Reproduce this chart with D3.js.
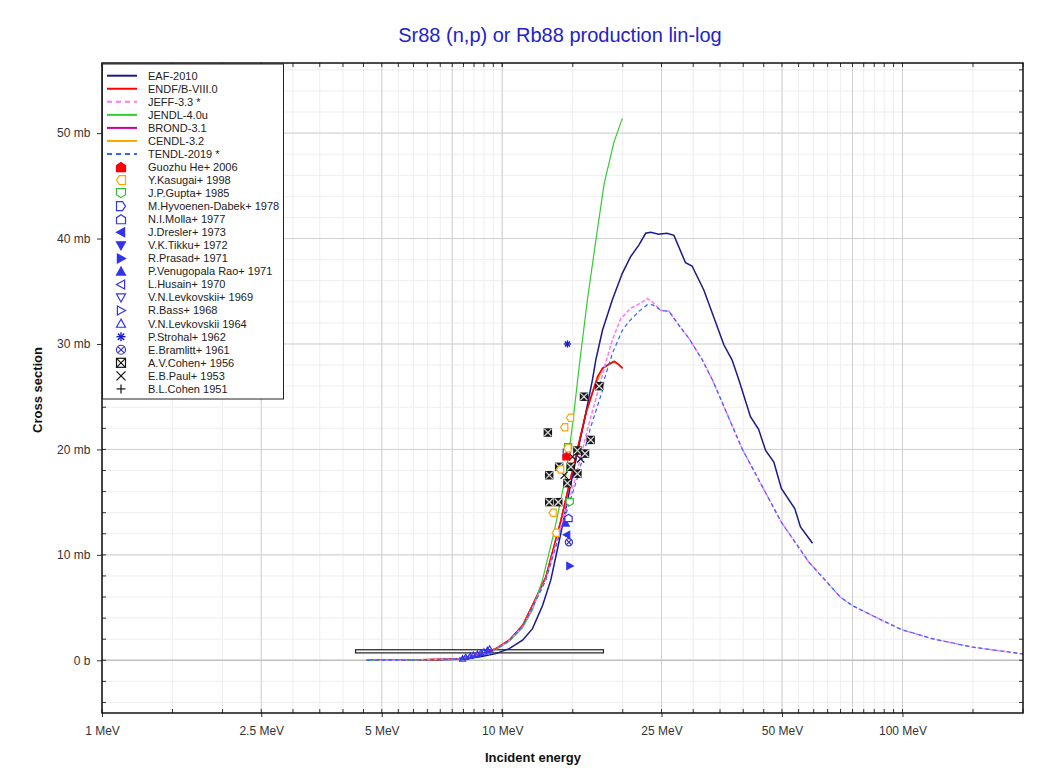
<!DOCTYPE html>
<html>
<head>
<meta charset="utf-8">
<script src="https://cdn.jsdelivr.net/npm/d3@7"></script>
<style>
  html, body { margin: 0; padding: 0; background: #fff; }
  svg { display: block; font-family: "Liberation Sans", Arial, sans-serif; }
</style>
</head>
<body>
<svg id="chart" width="1049" height="774"></svg>
<script>
// ---------------- DATA ----------------
const title = "Sr88 (n,p) or Rb88 production lin-log";
const xTitle = "Incident energy";
const yTitle = "Cross section";

const xTickValues = [1, 2.5, 5, 10, 25, 50, 100];
const xTickLabels = ["1 MeV", "2.5 MeV", "5 MeV", "10 MeV", "25 MeV", "50 MeV", "100 MeV"];
const xMajorGrid = [1, 2.5, 5, 7.5, 10, 25, 50, 75, 100];
const yTickValues = [0, 10, 20, 30, 40, 50];
const yTickLabels = ["0 b", "10 mb", "20 mb", "30 mb", "40 mb", "50 mb"];

// evaluations: [energy MeV, cross section mb]
const eaf2010 = [[4.58,0],[6,0.02],[7,0.06],[7.8,0.1],[8.76,0.31],[9.64,0.63],[10.41,1.1],[11.24,1.9],[11.9,3.0],[12.61,5.2],[13.22,7.6],[14.0,12.0],[15.0,17.6],[16.0,22.6],[16.8,26.6],[17.13,28.5],[17.8,31.3],[18.84,34.2],[19.95,36.7],[20.94,38.3],[21.96,39.4],[22.82,40.5],[23.5,40.6],[24.6,40.4],[25.8,40.5],[26.85,40.3],[28.7,37.7],[29.8,37.4],[31.9,35.1],[35.8,29.9],[37.5,28.5],[39.0,26.6],[41.7,23.1],[43.7,21.9],[45.5,19.9],[47.7,18.8],[49.8,16.3],[53.8,14.4],[55.6,12.65],[59.6,11.1]];
const endf8 = [[4.6,0],[6,0.02],[6.8,0.05],[7.8,0.16],[8.76,0.54],[9.64,1.1],[10.41,1.9],[11.24,3.3],[11.9,5.2],[12.85,7.9],[14.0,13.2],[14.83,17.3],[16.2,23.5],[16.97,25.9],[17.3,26.9],[17.8,27.7],[18.5,28.1],[19.03,28.35],[19.5,28.1],[20.0,27.7]];
const jeff33 = [[4.6,0],[6,0.02],[7.8,0.15],[8.76,0.5],[9.64,1.05],[10.41,1.85],[11.24,3.2],[11.9,5.0],[12.85,7.7],[14.0,12.6],[15.27,17.4],[16.4,22.2],[17.6,26.4],[18.1,28.1],[18.84,30.4],[19.77,32.4],[20.94,33.4],[21.96,33.8],[23.0,34.3],[23.7,34.0],[24.9,33.2],[26.1,33.1],[27.6,31.8],[29.3,30.5],[31.6,28.5],[33.5,26.6],[39.7,20.1],[49.8,13.1],[58.3,9.33],[69.9,6.0],[74.8,5.2],[88.8,3.8],[99.6,2.9],[118.3,2.06],[148.8,1.26],[200,0.6]];
const jendl40u = [[4.6,0],[6,0.02],[7.8,0.12],[8.76,0.45],[9.64,1.0],[10.41,1.8],[11.24,3.1],[11.9,4.8],[12.6,7.6],[13.5,12.3],[14.41,17.5],[15.0,22.5],[15.56,27.8],[16.32,34.2],[17.13,39.8],[17.97,45.2],[19.03,49.2],[19.95,51.4]];
const brond31 = [[4.6,0],[6,0.02],[7.8,0.16],[8.76,0.54],[9.64,1.1],[10.41,1.9],[11.24,3.3],[11.9,5.2],[12.85,7.9],[14.0,13.2],[14.83,17.3],[16.2,23.5],[16.97,25.9],[17.8,27.7],[19.03,28.35],[20.0,27.7]];
const cendl32 = [[4.6,0],[6,0.02],[7.8,0.16],[8.76,0.54],[9.64,1.1],[10.41,1.9],[11.24,3.3],[11.9,5.2],[12.85,7.9],[14.0,13.2],[14.83,17.3],[16.2,23.5],[16.97,25.9],[17.8,27.7],[19.03,28.35],[20.0,27.7]];
const tendl2019 = [[4.6,0],[6,0.02],[7.8,0.15],[8.76,0.5],[9.64,1.05],[10.41,1.85],[11.24,3.2],[11.9,5.0],[12.85,7.6],[14.0,12.3],[15.41,17.3],[16.6,22.0],[17.8,25.6],[17.97,26.6],[18.84,29.1],[19.95,31.3],[20.7,32.1],[21.96,33.1],[23.0,33.7],[23.8,33.7],[24.9,33.2],[26.1,33.1],[27.6,31.8],[29.3,30.5],[31.6,28.5],[33.5,26.6],[39.7,20.1],[49.8,13.1],[58.3,9.33],[69.9,6.0],[74.8,5.2],[88.8,3.8],[99.6,2.9],[118.3,2.06],[148.8,1.26],[200,0.6]];

// experimental points: [energy MeV, cross section mb]
const heGuozhu2006 = [[14.47,19.35]];
const kasugai1998 = [[14.77,23.0],[14.28,22.1],[14.55,20.1],[13.95,18.1],[13.36,14.0],[13.6,12.1]];
const gupta1985 = [[14.74,15.0],[14.6,20.2]];
const hyvoenen1978 = [[14.5,19.7]];
const molla1977 = [[14.64,13.5]];
const dresler1973 = [[14.5,11.9]];
const tikku1972 = [];
const prasad1971 = [[14.74,8.95]];
const venugopala1971 = [[14.4,13.0]];
const husain1970 = [];
const levkovskii1969 = [];
const bass1968 = [];
const levkovskii1964 = [[7.96,0.15],[8.1,0.3],[8.31,0.4],[8.47,0.5],[8.67,0.6],[8.84,0.7],[9.0,0.8],[9.18,0.95],[9.3,1.1]];
const strohal1962 = [[14.55,30.0]];
const bramlitt1961 = [[14.67,11.2]];
const cohenAV1956 = [[17.46,26.0],[16.0,25.0],[13.0,21.6],[16.63,20.9],[15.41,19.9],[16.1,19.6],[13.87,18.35],[14.83,18.35],[13.1,17.55],[15.41,17.7],[14.55,16.8],[13.1,15.0],[13.8,15.0]];
const paul1953 = [[14.98,19.3],[15.7,19.1],[14.28,17.55]];
const cohenBL1951 = [];
// broad-energy measurement drawn as a box: [Emin, Emax, sigmaLow, sigmaHigh]
const broadBox = [[4.3, 17.9, 0.7, 1.0]];

// ---------------- STYLE ----------------
const W = 1049, H = 774;
const plot = { left: 102, right: 1023, top: 63, bottom: 713 };
const svg = d3.select("#chart");

const x = d3.scaleLog().domain([1, 200]).range([plot.left, plot.right]);
const y = d3.scaleLinear().domain([-5, 56.65]).range([plot.bottom, plot.top]);

// minor tick positions
const xMinor = [];
[1, 10, 100].forEach(d => { for (let k = 1; k <= 10.0001; k += 0.5) { const v = k * d; if (v <= 200) xMinor.push(v); } });
const yMinor = d3.range(-4, 57, 2);

// grid
const grid = svg.append("g");
grid.selectAll(".vmin").data(xMinor).join("line")
  .attr("x1", d => x(d)).attr("x2", d => x(d)).attr("y1", plot.top).attr("y2", plot.bottom)
  .attr("stroke", "#eeeeee").attr("stroke-width", 1);
grid.selectAll(".hmin").data(yMinor).join("line")
  .attr("x1", plot.left).attr("x2", plot.right).attr("y1", d => y(d)).attr("y2", d => y(d))
  .attr("stroke", "#eeeeee").attr("stroke-width", 1);
grid.selectAll(".vmaj").data(xMajorGrid).join("line")
  .attr("x1", d => x(d)).attr("x2", d => x(d)).attr("y1", plot.top).attr("y2", plot.bottom)
  .attr("stroke", "#d0d0d0").attr("stroke-width", 1);
grid.selectAll(".hmaj").data(yTickValues).join("line")
  .attr("x1", plot.left).attr("x2", plot.right).attr("y1", d => y(d)).attr("y2", d => y(d))
  .attr("stroke", d => d === 0 ? "#c0c0c0" : "#d0d0d0").attr("stroke-width", d => d === 0 ? 1.5 : 1);

// axes
const axB = d3.axisBottom(x).tickValues(xTickValues).tickFormat((d, i) => xTickLabels[i]).tickSizeInner(4).tickSizeOuter(0);
const axL = d3.axisLeft(y).tickValues(yTickValues).tickFormat((d, i) => yTickLabels[i]).tickSizeInner(5).tickSizeOuter(0);
const gB = svg.append("g").attr("transform", `translate(0,${plot.bottom})`).call(axB);
const gL = svg.append("g").attr("transform", `translate(${plot.left},0)`).call(axL);
[gB, gL].forEach(g => {
  g.select(".domain").remove();
  g.selectAll("text").attr("fill", "#333").style("font-size", "12px").style("font-family", "Liberation Sans, Arial, sans-serif");
  g.selectAll("line").attr("stroke", "#333");
});
gB.selectAll("text").attr("dy", "1.25em");
gL.selectAll("text").attr("dx", "-0.3em");

// minor ticks on all sides (inside)
const tk = svg.append("g").attr("stroke", "#333").attr("stroke-width", 1);
tk.selectAll(".tb").data(xMinor).join("line").attr("x1", d => x(d)).attr("x2", d => x(d)).attr("y1", plot.bottom).attr("y2", plot.bottom - 4);
tk.selectAll(".tt").data(xMinor).join("line").attr("x1", d => x(d)).attr("x2", d => x(d)).attr("y1", plot.top).attr("y2", plot.top + 4);
tk.selectAll(".tl").data(yMinor).join("line").attr("x1", plot.left).attr("x2", plot.left + 4).attr("y1", d => y(d)).attr("y2", d => y(d));
tk.selectAll(".tr").data(yMinor).join("line").attr("x1", plot.right).attr("x2", plot.right - 4).attr("y1", d => y(d)).attr("y2", d => y(d));

// clip
svg.append("clipPath").attr("id", "clip").append("rect")
  .attr("x", plot.left).attr("y", plot.top).attr("width", plot.right - plot.left).attr("height", plot.bottom - plot.top);
const pg = svg.append("g").attr("clip-path", "url(#clip)");

// series definitions
const series = [
  { name: "EAF-2010", data: eaf2010, color: "#1a1a8a", dash: null, w: 1.5 },
  { name: "ENDF/B-VIII.0", data: endf8, color: "#ff0000", dash: null, w: 1.5 },
  { name: "JEFF-3.3 *", data: jeff33, color: "#ff77ff", dash: "4,2", w: 1.5 },
  { name: "JENDL-4.0u", data: jendl40u, color: "#33cc33", dash: null, w: 1.2 },
  { name: "BROND-3.1", data: brond31, color: "#cc0099", dash: null, w: 1.5 },
  { name: "CENDL-3.2", data: cendl32, color: "#ffa500", dash: null, w: 1.5 },
  { name: "TENDL-2019 *", data: tendl2019, color: "#3366ff", dash: "4,3", w: 1.2 }
];
const drawOrder = [4, 5, 0, 1, 3, 2, 6];
const line = d3.line().x(d => x(d[0])).y(d => y(d[1]));

// broad box
pg.selectAll(".bbox").data(broadBox).join("rect")
  .attr("x", d => x(d[0])).attr("width", d => x(d[1]) - x(d[0]))
  .attr("y", d => y(d[3])).attr("height", d => y(d[2]) - y(d[3]))
  .attr("fill", "#f4f4f4").attr("stroke", "#222").attr("stroke-width", 1.2);

drawOrder.forEach(i => {
  const s = series[i];
  pg.append("path").datum(s.data).attr("d", line)
    .attr("fill", "none").attr("stroke", s.color).attr("stroke-width", s.w)
    .attr("stroke-dasharray", s.dash);
});

// markers
function house(s) { return `M0,${-s} L${s},${-s*0.35} L${s},${s} L${-s},${s} L${-s},${-s*0.35} Z`; }
function tri(s) { return `M0,${-s} L${s},${s*0.8} L${-s},${s*0.8} Z`; }
const rot = { up: 0, right: 90, down: 180, left: 270 };
function drawMarker(g, m, cx, cy, s) {
  const gg = g.append("g").attr("transform", `translate(${cx},${cy})`);
  const stroke = m.color, sw = 1.2;
  switch (m.shape) {
    case "house":
      gg.append("path").attr("d", house(s)).attr("transform", `rotate(${rot[m.dir]})`)
        .attr("fill", m.fill ? m.color : "#fff").attr("stroke", stroke).attr("stroke-width", sw);
      break;
    case "tri":
      gg.append("path").attr("d", tri(s)).attr("transform", `rotate(${rot[m.dir]})`)
        .attr("fill", m.fill ? m.color : "none").attr("stroke", stroke).attr("stroke-width", sw);
      break;
    case "star":
      [0, 45, 90, 135].forEach(a => gg.append("line").attr("x1", -s).attr("x2", s).attr("y1", 0).attr("y2", 0)
        .attr("transform", `rotate(${a})`).attr("stroke", stroke).attr("stroke-width", 1.4));
      break;
    case "circx":
      gg.append("circle").attr("r", s).attr("fill", "none").attr("stroke", stroke).attr("stroke-width", sw);
      [45, 135].forEach(a => gg.append("line").attr("x1", -s).attr("x2", s).attr("transform", `rotate(${a})`).attr("stroke", stroke).attr("stroke-width", sw));
      break;
    case "boxx":
      gg.append("rect").attr("x", -s).attr("y", -s).attr("width", 2*s).attr("height", 2*s).attr("fill", m.boxFill || "none").attr("stroke", stroke).attr("stroke-width", sw);
      gg.append("line").attr("x1", -s).attr("y1", -s).attr("x2", s).attr("y2", s).attr("stroke", m.xColor || stroke).attr("stroke-width", sw);
      gg.append("line").attr("x1", -s).attr("y1", s).attr("x2", s).attr("y2", -s).attr("stroke", m.xColor || stroke).attr("stroke-width", sw);
      break;
    case "x":
      gg.append("line").attr("x1", -s).attr("y1", -s).attr("x2", s).attr("y2", s).attr("stroke", stroke).attr("stroke-width", sw);
      gg.append("line").attr("x1", -s).attr("y1", s).attr("x2", s).attr("y2", -s).attr("stroke", stroke).attr("stroke-width", sw);
      break;
    case "plus":
      gg.append("line").attr("x1", -s).attr("x2", s).attr("stroke", stroke).attr("stroke-width", sw);
      gg.append("line").attr("y1", -s).attr("y2", s).attr("stroke", stroke).attr("stroke-width", sw);
      break;
  }
}

const blue = "#3333ee";
const experiments = [
  { name: "Guozhu He+ 2006", data: heGuozhu2006, shape: "house", dir: "up", fill: true, color: "#ff0000" },
  { name: "Y.Kasugai+ 1998", data: kasugai1998, shape: "house", dir: "left", fill: false, color: "#ffa500" },
  { name: "J.P.Gupta+ 1985", data: gupta1985, shape: "house", dir: "down", fill: false, color: "#33bb33" },
  { name: "M.Hyvoenen-Dabek+ 1978", data: hyvoenen1978, shape: "house", dir: "right", fill: false, color: blue },
  { name: "N.I.Molla+ 1977", data: molla1977, shape: "house", dir: "up", fill: false, color: blue },
  { name: "J.Dresler+ 1973", data: dresler1973, shape: "tri", dir: "left", fill: true, color: blue },
  { name: "V.K.Tikku+ 1972", data: tikku1972, shape: "tri", dir: "down", fill: true, color: blue },
  { name: "R.Prasad+ 1971", data: prasad1971, shape: "tri", dir: "right", fill: true, color: blue },
  { name: "P.Venugopala Rao+ 1971", data: venugopala1971, shape: "tri", dir: "up", fill: true, color: blue },
  { name: "L.Husain+ 1970", data: husain1970, shape: "tri", dir: "left", fill: false, color: blue },
  { name: "V.N.Levkovskii+ 1969", data: levkovskii1969, shape: "tri", dir: "down", fill: false, color: blue },
  { name: "R.Bass+ 1968", data: bass1968, shape: "tri", dir: "right", fill: false, color: blue },
  { name: "V.N.Levkovskii 1964", data: levkovskii1964, shape: "tri", dir: "up", fill: false, color: blue },
  { name: "P.Strohal+ 1962", data: strohal1962, shape: "star", color: "#1a1acc" },
  { name: "E.Bramlitt+ 1961", data: bramlitt1961, shape: "circx", color: "#3333cc" },
  { name: "A.V.Cohen+ 1956", data: cohenAV1956, shape: "boxx", color: "#111" },
  { name: "E.B.Paul+ 1953", data: paul1953, shape: "x", color: "#111" },
  { name: "B.L.Cohen 1951", data: cohenBL1951, shape: "plus", color: "#111" }
];

const mg = svg.append("g").attr("clip-path", "url(#clip)");
experiments.slice().reverse().forEach(m => {
  const style = m.shape === "boxx" ? Object.assign({}, m, { boxFill: "#222", xColor: "#ddd" }) : m;
  m.data.forEach(d => drawMarker(mg, style, x(d[0]), y(d[1]), m.shape === "tri" && m.name === "V.N.Levkovskii 1964" ? 3 : 3.6));
});

// frame
svg.append("rect").attr("x", plot.left).attr("y", plot.top)
  .attr("width", plot.right - plot.left).attr("height", plot.bottom - plot.top)
  .attr("fill", "none").attr("stroke", "#111").attr("stroke-width", 1.5);

// legend
const leg = svg.append("g");
const legTop = 75.7, legStep = 13.05;
leg.append("rect").attr("x", plot.left + 0.5).attr("y", plot.top + 1).attr("width", 181).attr("height", 335)
  .attr("fill", "#fff").attr("stroke", "#222").attr("stroke-width", 1);
series.forEach((s, i) => {
  const yy = legTop + i * legStep;
  leg.append("line").attr("x1", 107).attr("x2", 137).attr("y1", yy).attr("y2", yy)
    .attr("stroke", s.color).attr("stroke-width", 2).attr("stroke-dasharray", s.dash ? "5,4" : null);
  leg.append("text").attr("x", 148).attr("y", yy).attr("dy", "0.35em").text(s.name)
    .style("font-size", "11px").attr("fill", "#222");
});
experiments.forEach((m, j) => {
  const yy = legTop + (series.length + j) * legStep;
  drawMarker(leg, m, 121, yy, 4.5);
  leg.append("text").attr("x", 148).attr("y", yy).attr("dy", "0.35em").text(m.name)
    .style("font-size", "11px").attr("fill", "#222");
});

// titles
svg.append("text").attr("x", 560).attr("y", 42).attr("text-anchor", "middle")
  .style("font-size", "20px").attr("fill", "#2222cc").text(title);
svg.append("text").attr("x", 533).attr("y", 762).attr("text-anchor", "middle")
  .style("font-size", "13px").style("font-weight", "bold").attr("fill", "#111").text(xTitle);
svg.append("text").attr("transform", "translate(42,390) rotate(-90)").attr("text-anchor", "middle")
  .style("font-size", "13px").style("font-weight", "bold").attr("fill", "#111").text(yTitle);
</script>
</body>
</html>
